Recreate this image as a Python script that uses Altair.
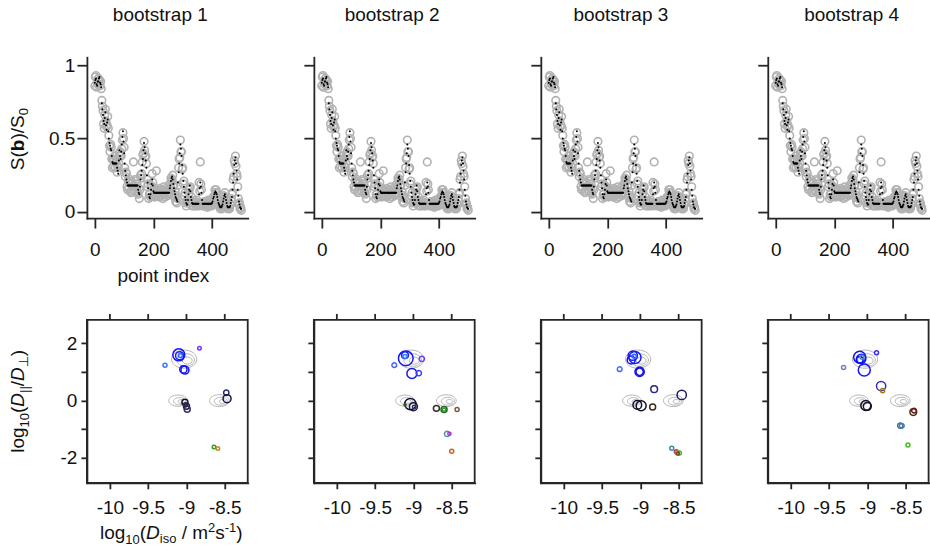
import altair as alt
import pandas as pd

FONT = "Liberation Sans"
AX = "#262626"
TXT = "#111111"

# ---------------- top row: signal vs point index ----------------
point_index = list(range(0, 501, 2))
signal_fit = [
    0.88, 0.90, 0.91, 0.87, 0.86, 0.89, 0.89, 0.91, 0.92, 0.88, 0.87, 0.85,
    0.74, 0.70, 0.66, 0.62, 0.60, 0.64, 0.68, 0.59, 0.56, 0.61, 0.63, 0.55, 0.50, 0.47,
    0.45, 0.43, 0.42, 0.38, 0.34, 0.33, 0.33, 0.33, 0.33, 0.33, 0.33, 0.33, 0.30, 0.28,
    0.26, 0.35, 0.42, 0.38, 0.36, 0.41, 0.46, 0.51, 0.55, 0.48, 0.40, 0.33, 0.28, 0.25, 0.22, 0.20,
    0.18, 0.18, 0.18, 0.18, 0.18, 0.18, 0.18, 0.18, 0.18, 0.18, 0.18, 0.18, 0.18, 0.18, 0.18, 0.18, 0.18, 0.18,
    0.15, 0.13, 0.12, 0.17, 0.22, 0.25, 0.28, 0.32, 0.36, 0.42, 0.47, 0.44, 0.40, 0.35, 0.30, 0.25,
    0.20, 0.16, 0.12, 0.10, 0.09, 0.12, 0.15, 0.19, 0.22, 0.18,
    0.14, 0.13, 0.13, 0.13, 0.13, 0.13, 0.13, 0.13, 0.13, 0.13, 0.13, 0.13, 0.13, 0.13,
    0.13, 0.13, 0.13, 0.13, 0.13, 0.13, 0.13, 0.13, 0.13, 0.13, 0.13, 0.13, 0.13, 0.13,
    0.16, 0.18, 0.21, 0.23, 0.24, 0.22, 0.19, 0.16, 0.14, 0.12, 0.10, 0.09, 0.08, 0.07,
    0.20, 0.27, 0.33, 0.40, 0.46, 0.43, 0.38, 0.32, 0.26, 0.21, 0.17, 0.13, 0.10, 0.08,
    0.06, 0.05, 0.05, 0.08, 0.12, 0.15, 0.18, 0.14, 0.10, 0.08, 0.06, 0.055,
    0.055, 0.055, 0.055, 0.055, 0.055, 0.055, 0.055, 0.055, 0.055, 0.055,
    0.12, 0.16, 0.20, 0.17, 0.13, 0.08,
    0.055, 0.055, 0.055, 0.055, 0.055, 0.055, 0.055, 0.055, 0.055, 0.055, 0.055, 0.055, 0.055, 0.055, 0.055, 0.055,
    0.06, 0.07, 0.09, 0.10, 0.12, 0.13, 0.14, 0.13, 0.12, 0.10, 0.08, 0.06, 0.05, 0.04, 0.03, 0.03, 0.03,
    0.04, 0.05, 0.07, 0.09,
    0.11, 0.12, 0.10, 0.08, 0.06, 0.04, 0.03, 0.03, 0.03, 0.03, 0.04, 0.06, 0.08,
    0.10, 0.15, 0.20, 0.26, 0.32, 0.35, 0.37, 0.33, 0.28, 0.22, 0.15, 0.11, 0.07, 0.05, 0.03, 0.02, 0.02,
]
signal_meas = [
    0.86, 0.92, 0.93, 0.85, 0.88, 0.87, 0.91, 0.89, 0.90, 0.86, 0.89, 0.84,
    0.76, 0.72, 0.69, 0.60, 0.57, 0.66, 0.70, 0.62, 0.58, 0.59, 0.65, 0.57, 0.52, 0.45,
    0.41, 0.46, 0.44, 0.36, 0.30, 0.36, 0.31, 0.35, 0.38, 0.30, 0.34, 0.36, 0.27, 0.31,
    0.30, 0.33, 0.40, 0.41, 0.39, 0.38, 0.43, 0.49, 0.54, 0.50, 0.44, 0.30, 0.24, 0.27, 0.26, 0.17,
    0.15, 0.21, 0.16, 0.20, 0.22, 0.14, 0.13, 0.19, 0.20, 0.17, 0.34, 0.15, 0.14, 0.22, 0.21, 0.16, 0.19, 0.13,
    0.12, 0.16, 0.09, 0.15, 0.25, 0.23, 0.26, 0.34, 0.39, 0.40, 0.48, 0.42, 0.37, 0.38, 0.33, 0.22,
    0.17, 0.19, 0.09, 0.12, 0.12, 0.10, 0.18, 0.17, 0.26, 0.20,
    0.11, 0.16, 0.10, 0.15, 0.12, 0.28, 0.11, 0.15, 0.14, 0.12, 0.10, 0.16, 0.13, 0.14,
    0.11, 0.15, 0.09, 0.12, 0.17, 0.13, 0.10, 0.14, 0.16, 0.12, 0.11, 0.15, 0.13, 0.12,
    0.19, 0.17, 0.23, 0.21, 0.22, 0.25, 0.17, 0.18, 0.10, 0.14, 0.07, 0.11, 0.06, 0.09,
    0.18, 0.30, 0.36, 0.37, 0.49, 0.41, 0.41, 0.29, 0.30, 0.19, 0.21, 0.11, 0.13, 0.06,
    0.04, 0.07, 0.08, 0.06, 0.15, 0.13, 0.16, 0.17, 0.08, 0.10, 0.04, 0.07,
    0.07, 0.04, 0.06, 0.05, 0.07, 0.04, 0.08, 0.05, 0.06, 0.04,
    0.20, 0.14, 0.34, 0.19, 0.15, 0.06,
    0.04, 0.06, 0.05, 0.07, 0.04, 0.06, 0.05, 0.07, 0.03, 0.06, 0.08, 0.04, 0.05, 0.07, 0.06, 0.04,
    0.05, 0.08, 0.10, 0.09, 0.11, 0.15, 0.13, 0.15, 0.13, 0.09, 0.07, 0.07, 0.04, 0.05, 0.02, 0.04, 0.03,
    0.02, 0.06, 0.05, 0.11,
    0.10, 0.13, 0.09, 0.09, 0.05, 0.05, 0.02, 0.04, 0.03, 0.02, 0.05, 0.05, 0.09,
    0.12, 0.13, 0.22, 0.24, 0.35, 0.33, 0.38, 0.31, 0.26, 0.24, 0.17, 0.09, 0.05, 0.06, 0.02, 0.03, 0.01,
]

# ---------------- bottom row: components per bootstrap ----------------
b1_x = [-9.10, -9.09, -9.08, -9.04, -9.02, -9.28, -8.83, -9.02, -9.00, -8.99, -9.01, -8.48, -8.47, -8.64, -8.59]
b1_y = [1.60, 1.57, 1.58, 1.09, 1.07, 1.24, 1.83, -0.06, -0.20, -0.30, -0.14, 0.28, 0.07, -1.62, -1.67]
b1_w = [0.16, 0.071, 0.018, 0.059, 0.071, 0.018, 0.014, 0.04, 0.04, 0.04, 0.018, 0.031, 0.071, 0.014, 0.014]
b1_c = ["#1414ff", "#1a1aff", "#2a6aff", "#1010f0", "#1414ff", "#3c78ff", "#7a30ff", "#141424",
        "#1c1c40", "#3a2a60", "#2a2a5a", "#22226e", "#121250", "#2c9c2c", "#c8861e"]

b2_x = [-9.10, -9.11, -9.11, -9.02, -8.93, -8.89, -9.25, -9.04, -9.00, -9.11, -8.99, -8.70, -8.60, -8.60, -8.43, -8.56, -8.53, -8.50]
b2_y = [1.48, 1.59, 1.54, 0.95, 0.96, 1.46, 1.24, -0.12, -0.21, -0.14, -0.22, -0.27, -0.31, -0.31, -0.31, -1.16, -1.16, -1.77]
b2_w = [0.24, 0.05, 0.018, 0.111, 0.031, 0.031, 0.025, 0.142, 0.071, 0.0044, 0.014, 0.04, 0.04, 0.012, 0.018, 0.031, 0.012, 0.018]
b2_c = ["#1414ff", "#1a1aff", "#2a80ff", "#1414f0", "#3c3cff", "#6a3cff", "#4064ff", "#101030", "#14143c",
        "#206020", "#303060", "#3a2a20", "#1e6a1e", "#2a9a2a", "#7a5a3a", "#5a8ab0", "#a040c0", "#d0602a"]

b3_x = [-9.10, -9.07, -9.12, -9.08, -9.01, -9.01, -9.27, -8.82, -8.46, -9.04, -8.99, -8.84, -8.59, -8.53, -8.52, -8.49, -8.51]
b3_y = [1.57, 1.51, 1.42, 1.55, 1.01, 1.01, 1.10, 0.40, 0.20, -0.15, -0.18, -0.22, -1.66, -1.79, -1.81, -1.83, -1.85]
b3_w = [0.096, 0.16, 0.071, 0.018, 0.096, 0.06, 0.025, 0.05, 0.096, 0.084, 0.111, 0.04, 0.018, 0.018, 0.018, 0.018, 0.012]
b3_c = ["#1414ff", "#1a1aff", "#1010f0", "#2a6aff", "#1414ff", "#1010e0", "#4a6aff", "#24248a", "#1a1a60",
        "#0e0e24", "#101028", "#3a2a18", "#3a8aa0", "#9030a0", "#d07030", "#40c030", "#7a4a2a"]

b4_x = [-9.10, -9.08, -9.10, -9.07, -9.04, -8.88, -9.31, -8.82, -8.80, -9.02, -9.00, -8.40, -8.39, -8.57, -8.55, -8.47]
b4_y = [1.52, 1.46, 1.43, 1.52, 1.07, 1.67, 1.16, 0.51, 0.35, -0.17, -0.20, -0.40, -0.35, -0.87, -0.88, -1.55]
b4_w = [0.16, 0.096, 0.05, 0.018, 0.16, 0.018, 0.018, 0.096, 0.018, 0.111, 0.071, 0.05, 0.025, 0.031, 0.025, 0.018]
b4_c = ["#1414ff", "#1a1aff", "#1010f0", "#3a9ab0", "#1414ff", "#3a2aff", "#6a80d0", "#3a2ac0", "#a07a20",
        "#101024", "#141430", "#4a2a1a", "#6a1a1a", "#3a6a9a", "#4a7aaa", "#40c020"]

# ground-truth distribution contours (three blobs, three levels each)
gt_blob = ["upper", "upper", "upper", "lower", "lower", "lower", "lower", "lower", "lower"]
gt_x = [-9.03, -9.01, -8.99, -9.11, -9.09, -9.07, -8.57, -8.55, -8.53]
gt_y = [1.45, 1.42, 1.40, 0.00, -0.02, -0.03, 0.00, -0.02, -0.03]
gt_level = [1.0, 0.484, 0.153, 0.546, 0.229, 0.057, 0.612, 0.272, 0.068]

titles = ["bootstrap 1", "bootstrap 2", "bootstrap 3", "bootstrap 4"]
title_dx = [73.5, 78.3, 80.1, 83.9]

top_x_ticks = [0, 200, 400]
top_y_ticks = [0, 0.5, 1]
bot_x_ticks = [-10, -9.5, -9, -8.5]
bot_y_ticks = [-2, -1, 0, 1, 2]

# ---------------- helpers ----------------
W = 161
HT = 161
HB = 163
ONE = pd.DataFrame({"k": [0]})

ADV = {" ": 278, "(": 333, ")": 333, "/": 278, "-": 333, ".": 278, "l": 222, "o": 556, "g": 556,
       "i": 222, "s": 500, "m": 833, "D": 722, "S": 667, "b": 556, "|": 260, "\u22a5": 840,
       "p": 556, "n": 556, "t": 278, "d": 556, "e": 556, "x": 500}


def tw(s, fs, bold=False):
    tot = 0
    for ch in s:
        if ch.isdigit():
            tot += 556
        elif bold and ch == "b":
            tot += 611
        else:
            tot += ADV.get(ch, 556)
    return tot / 1000.0 * fs


def rich(pieces, x, y, angle=0, center=True):
    """pieces: (text, fontSize, style, weight, baseline shift); whitespace-only pieces are gaps."""
    total = sum(tw(t, fs, wt == "bold") for t, fs, st, wt, sh in pieces)
    off = -total / 2 if center else 0
    out = []
    for t, fs, st, wt, sh in pieces:
        if t.strip():
            kw = dict(text=t, font=FONT, fontSize=fs, fontStyle=st, fontWeight=wt, align="left",
                      baseline="alphabetic", dx=off, dy=sh, color=TXT)
            if angle:
                kw["angle"] = angle
            out.append(alt.Chart(ONE).mark_text(**kw).encode(x=alt.value(x), y=alt.value(y)))
        off += tw(t, fs, wt == "bold")
    return out


def axis(values, labels, tick, pad, expr="datum.value + ''"):
    return alt.Axis(values=values, labels=labels, ticks=True, tickSize=tick, tickWidth=1.8,
                    tickColor=AX, domain=True, domainColor=AX, domainWidth=1.8, domainCap="square",
                    grid=False, title=None, labelFont=FONT, labelFontSize=19, labelColor=TXT,
                    labelPadding=pad, labelFlush=False, labelOverlap=False, labelExpr=expr)


def ellipse(k):
    c = 0.5523
    return (f"M 1 0 C 1 {c*k:.4f} {c} {k} 0 {k} C {-c} {k} -1 {c*k:.4f} -1 0 "
            f"C -1 {-c*k:.4f} {-c} {-k} 0 {-k} C {c} {-k} 1 {-c*k:.4f} 1 0 Z")


sig = pd.DataFrame({"idx": point_index, "fit": signal_fit, "meas": signal_meas})
gt_df = pd.DataFrame({"blob": gt_blob, "gx": gt_x, "gy": gt_y, "gs": gt_level})
comps = [
    pd.DataFrame({"cx": b1_x, "cy": b1_y, "w": b1_w, "c": b1_c}),
    pd.DataFrame({"cx": b2_x, "cy": b2_y, "w": b2_w, "c": b2_c}),
    pd.DataFrame({"cx": b3_x, "cy": b3_y, "w": b3_w, "c": b3_c}),
    pd.DataFrame({"cx": b4_x, "cy": b4_y, "w": b4_w, "c": b4_c}),
]


def title_text(k):
    return alt.Chart(ONE).mark_text(text=titles[k], font=FONT, fontSize=19, align="center",
                                    baseline="alphabetic", color=TXT).encode(
        x=alt.value(title_dx[k]), y=alt.value(-36.3))


def top_panel(k):
    xs = alt.Scale(domain=[-27, 522], nice=False, zero=False)
    ys = alt.Scale(domain=[-0.043, 1.055], nice=False, zero=False)
    xa = axis(top_x_ticks, True, 10, 12.5)
    ya = axis(top_y_ticks, k == 0, 10, 2)
    gray = alt.Chart(sig).mark_point(shape="circle", filled=False, color="#b2b2b2",
                                     strokeWidth=1.6, size=58, opacity=1).encode(
        x=alt.X("idx:Q", scale=xs, axis=xa), y=alt.Y("meas:Q", scale=ys, axis=ya))
    dots = alt.Chart(sig).mark_circle(size=4, color="black", opacity=1).encode(
        x=alt.X("idx:Q", scale=xs, axis=xa), y=alt.Y("fit:Q", scale=ys, axis=ya))
    layers = [gray, dots, title_text(k)]
    if k == 0:
        layers += rich([("S", 19, "normal", "normal", 0), ("(", 19, "normal", "normal", 0),
                        ("b", 19, "normal", "bold", 0), (")/S", 19, "normal", "normal", 0),
                        ("0", 13, "normal", "normal", 4)], -63, 82, angle=270)
        layers.append(alt.Chart(ONE).mark_text(text="point index", font=FONT, fontSize=19,
                                               align="center", baseline="alphabetic", color=TXT).encode(
            x=alt.value(76.5), y=alt.value(225)))
        layers.append(alt.Chart(ONE).mark_rule(strokeOpacity=0, strokeWidth=1).encode(
            x=alt.value(-86.5), y=alt.value(-57), y2=alt.value(-50)))
    return alt.layer(*layers).properties(width=W, height=HT)


def bottom_panel(k):
    xs = alt.Scale(domain=[-10.3, -8.2], nice=False, zero=False)
    ys = alt.Scale(domain=[-2.87, 2.82], nice=False, zero=False)
    even = "datum.value % 2 == 0 ? datum.value + '' : ''"
    xa = axis(bot_x_ticks, True, 6, 10)
    ya = axis(bot_y_ticks, k == 0, 6, 4, even)
    ring_up = alt.Chart(gt_df).transform_filter("datum.blob == 'upper'").mark_point(
        shape=ellipse(0.72), filled=False, color="#b4b4b4", strokeWidth=1, opacity=1).encode(
        x=alt.X("gx:Q", scale=xs, axis=xa), y=alt.Y("gy:Q", scale=ys, axis=ya),
        size=alt.Size("gs:Q", scale=alt.Scale(domain=[0, 1], range=[0, 640]), legend=None))
    ring_lo = alt.Chart(gt_df).transform_filter("datum.blob == 'lower'").mark_point(
        shape=ellipse(0.6), filled=False, color="#b4b4b4", strokeWidth=1, opacity=1).encode(
        x=alt.X("gx:Q", scale=xs, axis=xa), y=alt.Y("gy:Q", scale=ys, axis=ya),
        size=alt.Size("gs:Q", scale=alt.Scale(domain=[0, 1], range=[0, 640]), legend=None))
    circ = alt.Chart(comps[k]).mark_point(shape="circle", filled=False, strokeWidth=1.5, opacity=1).encode(
        x=alt.X("cx:Q", scale=xs, axis=xa), y=alt.Y("cy:Q", scale=ys, axis=ya),
        size=alt.Size("w:Q", scale=alt.Scale(domain=[0, 1], range=[0, 900]), legend=None),
        stroke=alt.Stroke("c:N", scale=None, legend=None))
    topt = alt.Chart(pd.DataFrame({"t": bot_x_ticks})).mark_rule(color=AX, strokeWidth=1.8).encode(
        x=alt.X("t:Q", scale=xs, axis=xa), y=alt.value(0), y2=alt.value(-6))
    layers = [ring_up, ring_lo, circ, topt]
    if k == 0:
        layers += rich([("log", 19, "normal", "normal", 0), ("10", 13, "normal", "normal", 5),
                        ("(", 19, "normal", "normal", 0), ("D", 19, "italic", "normal", 0),
                        ("||", 13, "normal", "normal", 5), ("/", 19, "normal", "normal", 0),
                        ("D", 19, "italic", "normal", 0), ("\u22a5", 13, "normal", "normal", 4),
                        (")", 19, "normal", "normal", 0)], -62.5, 81.5, angle=270)
        layers += rich([("log", 19, "normal", "normal", 0), ("10", 13, "normal", "normal", 5),
                        ("(", 19, "normal", "normal", 0), ("D", 19, "italic", "normal", 0),
                        ("iso", 13, "normal", "normal", 4), (" ", 19, "normal", "normal", 0),
                        ("/", 19, "normal", "normal", 0), (" ", 19, "normal", "normal", 0),
                        ("m", 19, "normal", "normal", 0),
                        ("2", 13, "normal", "normal", -7), ("s", 19, "normal", "normal", 0),
                        ("-1", 13, "normal", "normal", -7), (")", 19, "normal", "normal", 0)],
                       84.5, 219)
    return alt.layer(*layers).resolve_scale(size="independent").properties(
        width=W, height=HB, view=alt.ViewBackground(stroke=AX, strokeWidth=1.8))


panels = [top_panel(k) for k in range(4)] + [bottom_panel(k) for k in range(4)]
chart = alt.concat(*panels, columns=4, spacing={"row": 102, "column": 66.2}, bounds="flush").properties(
    padding=0).configure_view(strokeWidth=0)

chart.save("out.html", embed_options={"renderer": "svg", "actions": False})
